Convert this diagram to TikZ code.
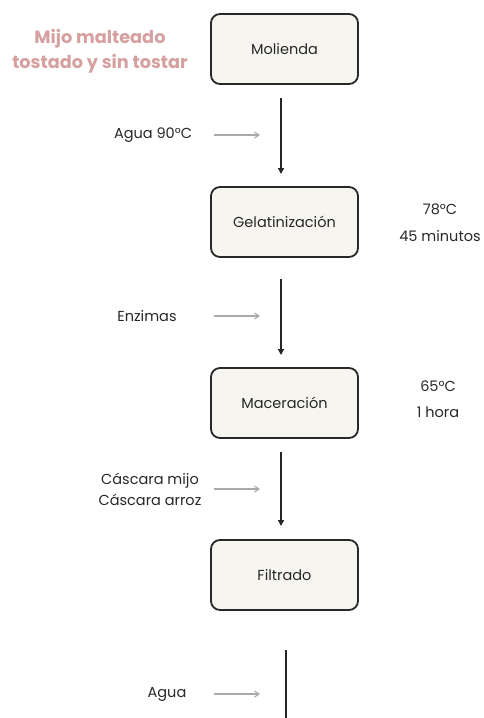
\documentclass[tikz,border=0pt]{standalone}
\usepackage{fontspec}
\setmainfont{Poppins}
\usetikzlibrary{arrows.meta}
\definecolor{boxfill}{RGB}{247,245,240}
\definecolor{boxline}{RGB}{40,40,40}
\definecolor{pinktxt}{RGB}{214,160,160}
\definecolor{txt}{RGB}{40,40,40}
\definecolor{feed}{RGB}{170,170,170}
\tikzset{
  stepbox/.style={draw=boxline, line width=1.8pt, fill=boxfill, rounded corners=9pt,
    minimum width=147pt, minimum height=70pt, font=\fontsize{14.5}{17}\selectfont, text=txt},
  lbl/.style={font=\fontsize{14.5}{21}\selectfont, text=txt, align=center},
  flow/.style={draw=black!85, line width=1.5pt, -{Triangle[length=6pt,width=6pt]}},
  feedarrow/.style={draw=feed, line width=1.1pt, -{Straight Barb[length=4.5pt,width=6pt]}}
}
\begin{document}
\begin{tikzpicture}[x=1pt,y=-1pt]
\useasboundingbox[fill=white] (0,0) rectangle (483,718);
% title
\node[font=\fontsize{17.7}{25}\selectfont\bfseries, text=pinktxt, align=center] (title) at (100,51) {Mijo malteado\\tostado y sin tostar};
% boxes
\node[stepbox] (mol) at (284.5,49) {Molienda};
\node[stepbox] (gel) at (284.5,222) {Gelatinización};
\node[stepbox] (mac) at (284.5,403) {Maceración};
\node[stepbox] (fil) at (284.5,575) {Filtrado};
% main flow
\coordinate (m1) at (281,98);  \coordinate (m2) at (281,174);
\coordinate (g1) at (281,279); \coordinate (g2) at (281,355);
\coordinate (c1) at (281,452); \coordinate (c2) at (281,526);
\coordinate (f1) at (286,650); \coordinate (f2) at (286,718);
\draw[flow] (m1) -- (m2);
\draw[flow] (g1) -- (g2);
\draw[flow] (c1) -- (c2);
\draw[draw=black!85, line width=1.5pt] (f1) -- (f2);
% feeds
\node[lbl] (agua1) at (153,135) {Agua 90°C};
\coordinate (a1s) at (214,135); \coordinate (a1e) at (260,135);
\draw[feedarrow] (a1s) -- (a1e);
\node[lbl] (enz) at (147,316) {Enzimas};
\coordinate (e1s) at (214,316); \coordinate (e1e) at (260,316);
\draw[feedarrow] (e1s) -- (e1e);
\node[lbl] (casc) at (150,489) {Cáscara mijo\\Cáscara arroz};
\coordinate (k1s) at (214,489); \coordinate (k1e) at (260,489);
\draw[feedarrow] (k1s) -- (k1e);
\node[lbl] (agua2) at (167,694) {Agua};
\coordinate (w1s) at (214,694); \coordinate (w1e) at (260,694);
\draw[feedarrow] (w1s) -- (w1e);
% conditions
\node[lbl, font=\fontsize{14.5}{27}\selectfont] (gelc) at (440,223) {78°C\\45 minutos};
\node[lbl, font=\fontsize{14.5}{26}\selectfont] (macc) at (438,399) {65°C\\1 hora};
\end{tikzpicture}
\end{document}
